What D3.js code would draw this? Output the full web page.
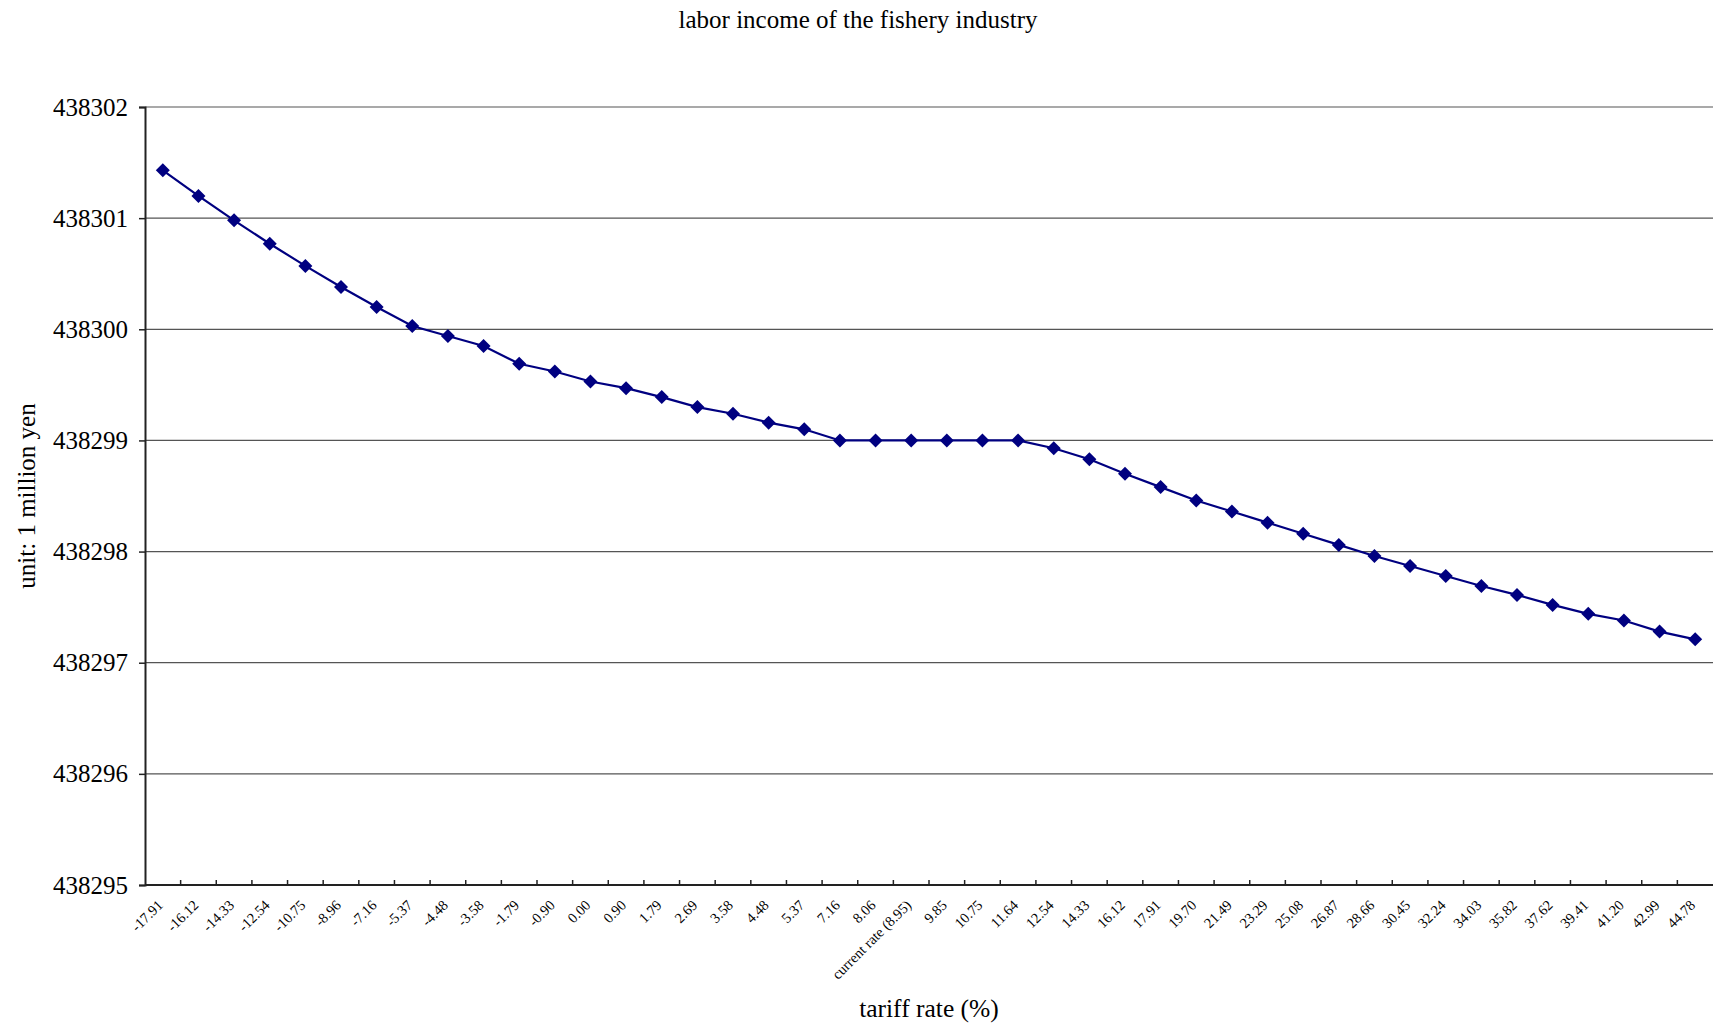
<!DOCTYPE html>
<html>
<head>
<meta charset="utf-8">
<script src="https://cdn.jsdelivr.net/npm/d3@7"></script>
<style>
  body { margin: 0; background: #fff; }
  svg { display: block; font-family: "Liberation Serif", "DejaVu Serif", serif; }
</style>
</head>
<body>
<svg id="chart" width="1713" height="1027"></svg>
<script>
// tariff rate categories (x axis)
let rates = ["-17.91","-16.12","-14.33","-12.54","-10.75","-8.96","-7.16","-5.37","-4.48","-3.58",
    "-1.79","-0.90","0.00","0.90","1.79","2.69","3.58","4.48","5.37","7.16",
    "8.06","current rate (8.95)","9.85","10.75","11.64","12.54","14.33","16.12","17.91","19.70",
    "21.49","23.29","25.08","26.87","28.66","30.45","32.24","34.03","35.82","37.62",
    "39.41","41.20","42.99","44.78"];

// labor income, unit: 1 million yen
let income = [438301.43,438301.20,438300.98,438300.77,438300.57,438300.38,438300.20,438300.03,438299.94,438299.85,
    438299.69,438299.62,438299.53,438299.47,438299.39,438299.30,438299.24,438299.16,438299.10,438299.00,
    438299.00,438299.00,438299.00,438299.00,438299.00,438298.93,438298.83,438298.70,438298.58,438298.46,
    438298.36,438298.26,438298.16,438298.06,438297.96,438297.87,438297.78,438297.69,438297.61,438297.52,
    438297.44,438297.38,438297.28,438297.21];

let yTicks = [438295,438296,438297,438298,438299,438300,438301,438302];

const svg = d3.select('#chart');
const width = 1713, height = 1027;
const margin = {top: 107, right: 0, bottom: 142, left: 145};
const plotW = width - margin.left - margin.right;
const plotH = height - margin.top - margin.bottom;

let x = d3.scaleBand()
    .domain(rates)
    .range([margin.left, margin.left + plotW])
    .padding(0);

let y = d3.scaleLinear()
    .domain([438295, 438302])
    .range([margin.top + plotH, margin.top]);

// title
svg.append('text')
    .attr('x', 858)
    .attr('y', 28)
    .attr('text-anchor', 'middle')
    .attr('font-size', 25)
    .text('labor income of the fishery industry');

// gridlines
svg.append('g')
    .selectAll('line')
    .data(yTicks.slice(1))
    .join('line')
    .attr('x1', margin.left)
    .attr('x2', margin.left + plotW)
    .attr('y1', d => y(d))
    .attr('y2', d => y(d))
    .attr('stroke', '#555')
    .attr('stroke-width', 1.2);

// y axis
let yAxis = svg.append('g')
    .attr('transform', `translate(${margin.left},0)`)
    .call(d3.axisLeft(y).tickValues(yTicks).tickFormat(d3.format('d')).tickSize(6).tickPadding(11));
yAxis.select('.domain').attr('stroke', '#222').attr('stroke-width', 2);
yAxis.selectAll('.tick line').attr('stroke', '#222').attr('stroke-width', 1.5);
yAxis.selectAll('.tick text')
    .attr('font-family', '"Liberation Serif", serif')
    .attr('font-size', 25)
    .attr('fill', '#000');

// x axis: ticks between categories, pointing up into the plot
let bounds = rates.map((r, i) => margin.left + i * x.bandwidth()).slice(1);
svg.append('line')
    .attr('x1', margin.left)
    .attr('x2', margin.left + plotW)
    .attr('y1', y(438295))
    .attr('y2', y(438295))
    .attr('stroke', '#222')
    .attr('stroke-width', 2);
svg.append('g')
    .selectAll('line')
    .data(bounds)
    .join('line')
    .attr('x1', d => d)
    .attr('x2', d => d)
    .attr('y1', y(438295))
    .attr('y2', y(438295) - 5)
    .attr('stroke', '#222')
    .attr('stroke-width', 1.5);

// x tick labels, rotated
svg.append('g')
    .selectAll('text')
    .data(rates)
    .join('text')
    .attr('transform', d => `translate(${x(d) + x.bandwidth() / 2 + 1},${y(438295) + 21}) rotate(-45)`)
    .attr('text-anchor', 'end')
    .attr('font-size', 14.5)
    .text(d => d);

// axis titles
svg.append('text')
    .attr('x', margin.left + plotW / 2)
    .attr('y', 1017)
    .attr('text-anchor', 'middle')
    .attr('font-size', 25.5)
    .text('tariff rate (%)');

svg.append('text')
    .attr('transform', `translate(35,${margin.top + plotH / 2}) rotate(-90)`)
    .attr('text-anchor', 'middle')
    .attr('font-size', 25)
    .text('unit: 1 million yen');

// line + markers
let line = d3.line()
    .x((d, i) => x(rates[i]) + x.bandwidth() / 2)
    .y(d => y(d));

svg.append('path')
    .datum(income)
    .attr('d', line)
    .attr('fill', 'none')
    .attr('stroke', '#000080')
    .attr('stroke-width', 2.2);

svg.append('g')
    .selectAll('path')
    .data(income)
    .join('path')
    .attr('d', d3.symbol().type(d3.symbolSquare).size(98))
    .attr('transform', (d, i) => `translate(${x(rates[i]) + x.bandwidth() / 2},${y(d)}) rotate(45)`)
    .attr('fill', '#000080');
</script>
</body>
</html>
